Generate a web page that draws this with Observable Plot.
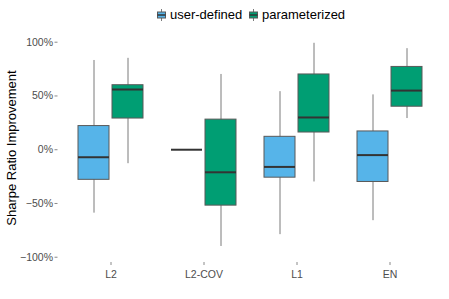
<!DOCTYPE html>
<html><head><meta charset="utf-8">
<script src="https://cdn.jsdelivr.net/npm/d3@7"></script>
<script src="https://cdn.jsdelivr.net/npm/@observablehq/plot@0.6"></script>
<style>
body{margin:0;background:#fff;font-family:"Liberation Sans",Arial,sans-serif;}
#wrap{position:relative;width:449px;height:299px;}
#legend{position:relative;height:28px;width:449px;font-size:13px;color:#000;}
.item{position:absolute;top:7px;display:flex;align-items:center;}
.item svg{margin-right:4px;}
</style></head>
<body><div id="wrap"><div id="legend"></div><div id="chart"></div></div>
<script>
const categories = ["L2", "L2-COV", "L1", "EN"];
const groups = ["user-defined", "parameterized"];
const colors = ["#56B4E9", "#009E73"];
// percent values per category (order of categories)
const userLow    = [-59, 0, -79, -66];
const userQ1     = [-28, 0, -26, -30];
const userMedian = [-7, 0, -16, -5];
const userQ3     = [22, 0, 12, 17];
const userHigh   = [83, 0, 54, 51];
const paramLow    = [-13, -90, -30, 29];
const paramQ1     = [29, -52, 16, 40];
const paramMedian = [56, -21, 30, 55];
const paramQ3     = [60, 28, 70, 77];
const paramHigh   = [85, 70, 99, 94];
const yTicks = [-100, -50, 0, 50, 100];

const rows = [];
categories.forEach((c, i) => {
  rows.push({cat: c, group: groups[0], lo: userLow[i], q1: userQ1[i], med: userMedian[i], q3: userQ3[i], hi: userHigh[i]});
  rows.push({cat: c, group: groups[1], lo: paramLow[i], q1: paramQ1[i], med: paramMedian[i], q3: paramQ3[i], hi: paramHigh[i]});
});

const fmt = d => (d < 0 ? "\u2212" : "") + Math.abs(d) + "%";

const chart = Plot.plot({
  width: 449,
  height: 271,
  marginLeft: 64,
  marginRight: 13,
  marginTop: 5,
  marginBottom: 37,
  style: {fontFamily: '"Liberation Sans", Arial, sans-serif', background: "#fff"},
  fx: {domain: categories, padding: 0},
  x: {domain: groups, paddingInner: 0.1, paddingOuter: 0.4, axis: null},
  y: {domain: [-104.9, 108.1]},
  color: {domain: groups, range: colors},
  marks: [
    Plot.ruleX(rows, {fx: "cat", x: "group", y1: "lo", y2: "hi", stroke: "#7a7a7a", strokeWidth: 1}),
    Plot.barY(rows, {fx: "cat", x: "group", y1: "q1", y2: "q3", fill: "group", stroke: "#595959", strokeWidth: 1}),
    Plot.tickY(rows, {fx: "cat", x: "group", y: "med", stroke: "#333", strokeWidth: 2}),
    Plot.axisY({ticks: yTicks, tickFormat: fmt, tickSize: 3, tickPadding: 2, dx: -6.5, fontSize: 10.5, color: "#4d4d4d", stroke: "#8a8a8a",
      label: "Sharpe Ratio Improvement", labelAnchor: "center", labelArrow: "none", labelOffset: 58}),
    Plot.axisFx({anchor: "bottom", tickSize: 3, tickPadding: 5, fontSize: 10.5, color: "#4d4d4d", stroke: "#8a8a8a", label: null})
  ]
});
document.getElementById("chart").appendChild(chart);
// style axis label
chart.querySelectorAll("text").forEach(t => {
  if (t.textContent === "Sharpe Ratio Improvement") { t.setAttribute("font-size", "13"); t.setAttribute("fill", "#000"); }
});

// legend
const lg = document.getElementById("legend");
const lx = [157, 249];
groups.forEach((g, i) => {
  const d = document.createElement("div");
  d.className = "item";
  d.style.left = lx[i] + "px";
  d.innerHTML = `<svg width="9" height="12"><line x1="4.5" x2="4.5" y1="0" y2="12" stroke="#7a7a7a"/><rect x="0.5" y="3" width="8" height="6" fill="${colors[i]}" stroke="#595959"/><line x1="0.5" x2="8.5" y1="6" y2="6" stroke="#333" stroke-width="1.5"/></svg><span>${g}</span>`;
  lg.appendChild(d);
});
</script></body></html>
